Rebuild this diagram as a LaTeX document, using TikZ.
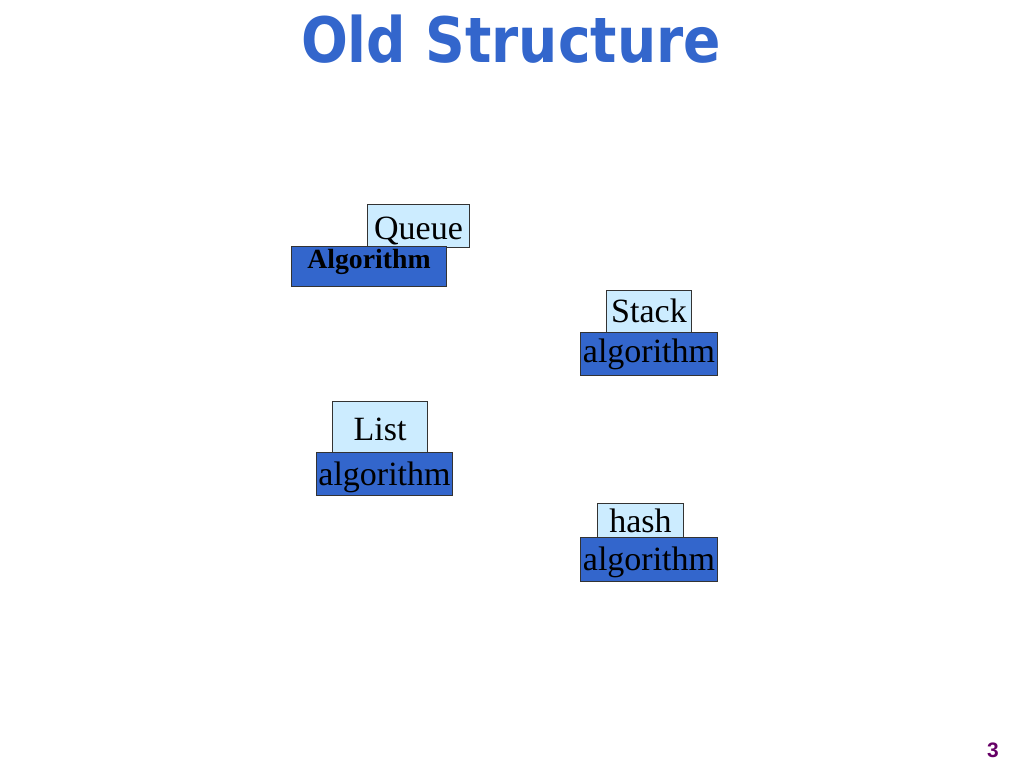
\documentclass[tikz,border=0pt]{standalone}
\usepackage{fontspec}
\setmainfont{Liberation Serif}
\newfontfamily\titlefont{DejaVu Sans}
\newfontfamily\numfont{Liberation Sans}
\usepackage{xcolor}
\usetikzlibrary{positioning}

\definecolor{titleblue}{HTML}{3366CC}
\definecolor{lightbox}{HTML}{CCECFF}
\definecolor{darkbox}{HTML}{3366CC}
\definecolor{numpurple}{HTML}{660066}

\tikzset{
  topbox/.style={draw=black!80, line width=0.75pt, fill=lightbox, inner sep=0pt,
    anchor=north west, font=\fontsize{25.5}{28}\selectfont},
  algbox/.style={draw=black!80, line width=0.75pt, fill=darkbox, inner sep=0pt,
    anchor=north west, font=\fontsize{25.5}{28}\selectfont}
}

\begin{document}
\begin{tikzpicture}[x=0.75pt,y=-0.75pt]
\useasboundingbox (0,0) rectangle (1024,768);

% Title
\node[anchor=base, text=titleblue, xscale=0.88,
  font=\titlefont\bfseries\fontsize{47}{52}\selectfont] (title) at (511,62) {Old Structure};

% Queue
\node[topbox, minimum width=76.5pt, text height=26.25pt, text depth=6pt] (queue) at (367,204) {Queue};
\node[algbox, minimum width=116.25pt, text height=16.5pt, text depth=13.5pt,
  font=\bfseries\fontsize{20.8}{24}\selectfont] (queuealg) at (291,246) {Algorithm};

% Stack
\node[topbox, minimum width=63.75pt, text height=24pt, text depth=7.5pt] (stack) at (606,290) {Stack};
\node[algbox, minimum width=102.75pt, text height=22.5pt, text depth=9.75pt] (stackalg) at (580,332) {algorithm};

% List
\node[topbox, minimum width=71.25pt, text height=29.25pt, text depth=9pt] (list) at (332,401) {List};
\node[algbox, minimum width=102pt, text height=24.75pt, text depth=7.5pt] (listalg) at (316,452) {algorithm};

% hash
\node[topbox, minimum width=64.5pt, text height=21.75pt, text depth=3.75pt] (hash) at (597,503) {hash};
\node[algbox, minimum width=102.75pt, text height=24.75pt, text depth=8.25pt] (hashalg) at (580,537) {algorithm};

% Page number
\node[text=numpurple, font=\numfont\bfseries\fontsize{15.7}{18}\selectfont] (pagenum) at (993,750) {3};
\end{tikzpicture}
\end{document}
